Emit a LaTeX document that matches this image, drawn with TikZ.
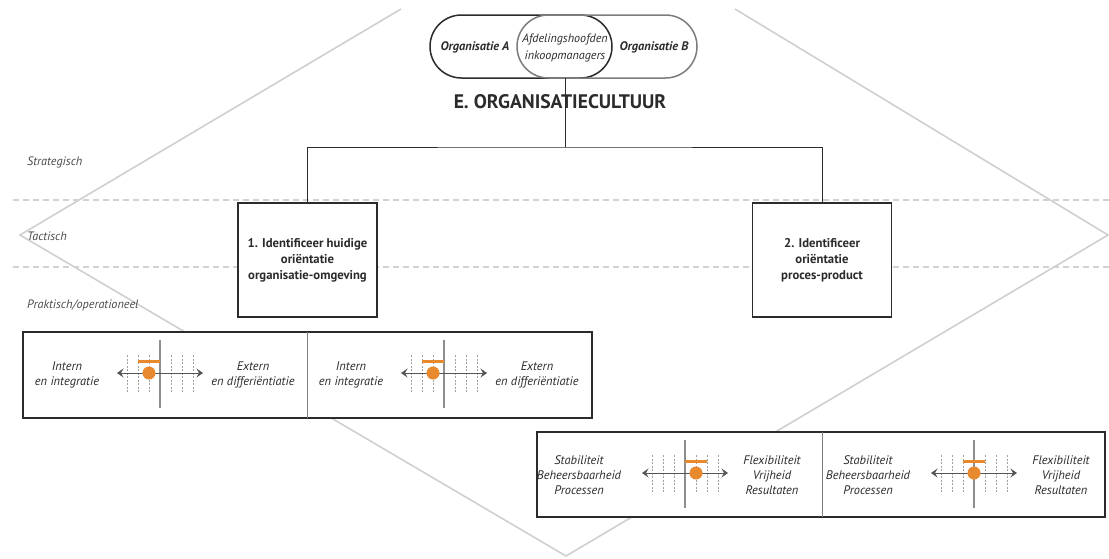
\documentclass[tikz,border=0pt]{standalone}
\usepackage{fontspec}
\setmainfont{PT Sans}
\usetikzlibrary{arrows.meta,shapes.misc}

\definecolor{ink}{HTML}{2B2B2B}
\definecolor{diam}{HTML}{CFCFCF}
\definecolor{guidegray}{HTML}{D2D2D2}
\definecolor{orng}{HTML}{E8892E}
\definecolor{axisgray}{HTML}{8E8E8E}
\definecolor{tickgray}{HTML}{A0A0A0}
\definecolor{lbl}{HTML}{4A4A4A}
\definecolor{softink}{HTML}{7C7C7C}

\tikzset{
  pics/gauge/.style 2 args={code={
    \foreach \d in {-33,-22,-11,11,22,33}
      \draw[tickline] (\d,-18) -- (\d,20);
    \draw[axisgray, line width=1.4pt] (0,-33) -- (0,35);
    \draw[ink!80, line width=1pt,
          {Stealth[length=6.5pt,width=9pt,inset=2.5pt]}-{Stealth[length=6.5pt,width=9pt,inset=2.5pt]}]
          (-43,0) -- (43,0);
    \fill[orng] (#1,-13.5) rectangle ++(22,3);
    \fill[orng] (#2,0) circle[radius=6.5];
  }},
  tickline/.style={tickgray, line width=0.9pt, dash pattern=on 2pt off 1.5pt},
}

\begin{document}
\begin{tikzpicture}[x=1pt,y=-1pt,
  guide/.style={guidegray, line width=1.1pt, dash pattern=on 6pt off 4pt},
  diamondline/.style={diam, line width=1.6pt},
  level/.style={font=\fontsize{12.2}{14}\selectfont\itshape, text=lbl, anchor=west, inner sep=0},
  stadium/.style={rounded rectangle, minimum height=63pt, line width=1.5pt, inner sep=0},
  orgtext/.style={font=\fontsize{12.4}{14}\selectfont\bfseries\itshape, text=ink, inner sep=0},
  task/.style={draw=ink, fill=white, line width=1.3pt, minimum width=139pt, minimum height=114pt,
               align=center, font=\fontsize{12.7}{16}\selectfont\bfseries, text=ink, inner sep=0},
  tree/.style={ink, line width=1pt},
  panelbox/.style={draw=ink, line width=2.6pt, fill=white, inner sep=0},
  divider/.style={softink, line width=0.9pt},
  pole/.style={font=\fontsize{12.4}{15}\selectfont\itshape, text=ink, align=center, inner sep=0},
]
\useasboundingbox (0,0) rectangle (1109,558);

% background diamond and level guides
\draw[diamondline] (401,9) -- (20,235) -- (566,556) -- (1108,235) -- (735,9);
\draw[guide] (13,200) -- (1109,200);
\draw[guide] (13,267) -- (1109,267);

% level labels
\node[level] (lvS) at (27,162) {Strategisch};
\node[level] (lvT) at (27,236) {Tactisch};
\node[level] (lvP) at (27,305) {Praktisch/operationeel};

% two overlapping organisations
\node[stadium, draw=ink, minimum width=182pt] (orgA) at (521,46.5) {};
\node[stadium, draw=softink, minimum width=180pt] (orgB) at (607,46.5) {};
\node[orgtext] (tA) at (475,47) {Organisatie A};
\node[orgtext] (tB) at (654,47) {Organisatie B};
\node[font=\fontsize{12.1}{16.5}\selectfont\itshape, text=ink, align=center, inner sep=0]
  (shared) at (565,48) {Afdelingshoofden\\inkoopmanagers};

% tree
\coordinate (venn) at (565,78);
\coordinate (hub) at (565,147);
\node[task] (box1) at (307.5,260) {1. Identificeer huidige\\oriëntatie\\organisatie-omgeving};
\node[task] (box2) at (822,260) {2. Identificeer\\oriëntatie\\proces-product};
\draw[tree] (venn) -- (hub);
\draw[tree] (box1.north) |- (hub) -| (box2.north);
\node[font=\fontsize{19.6}{22}\selectfont\bfseries, text=ink, inner sep=0] (title) at (560,102) {E. ORGANISATIECULTUUR};

% left bottom panel: organisation vs environment
\node[panelbox, minimum width=569pt, minimum height=86pt] (lowL) at (307.5,375) {};
\draw[divider] (307,332) -- (307,418);
\node[pole] (inL1) at (67,375) {Intern\\en integratie};
\pic at (160,373) {gauge={-22}{-11}};
\node[pole] (exL1) at (253,375) {Extern\\en differiëntiatie};
\node[pole] (inL2) at (351,375) {Intern\\en integratie};
\pic at (444,373) {gauge={-22}{-11}};
\node[pole] (exL2) at (537,375) {Extern\\en differiëntiatie};

% right bottom panel: process vs product
\node[panelbox, minimum width=568pt, minimum height=85pt] (lowR) at (821,474.5) {};
\draw[divider] (822,432) -- (822,517);
\node[pole] (stR1) at (579,475.5) {Stabiliteit\\Beheersbaarheid\\Processen};
\pic at (685,473) {gauge={0}{11}};
\node[pole] (flR1) at (772,475.5) {Flexibiliteit\\Vrijheid\\Resultaten};
\node[pole] (stR2) at (868,475.5) {Stabiliteit\\Beheersbaarheid\\Processen};
\pic at (974,473) {gauge={-11}{0}};
\node[pole] (flR2) at (1061,475.5) {Flexibiliteit\\Vrijheid\\Resultaten};
\end{tikzpicture}
\end{document}
